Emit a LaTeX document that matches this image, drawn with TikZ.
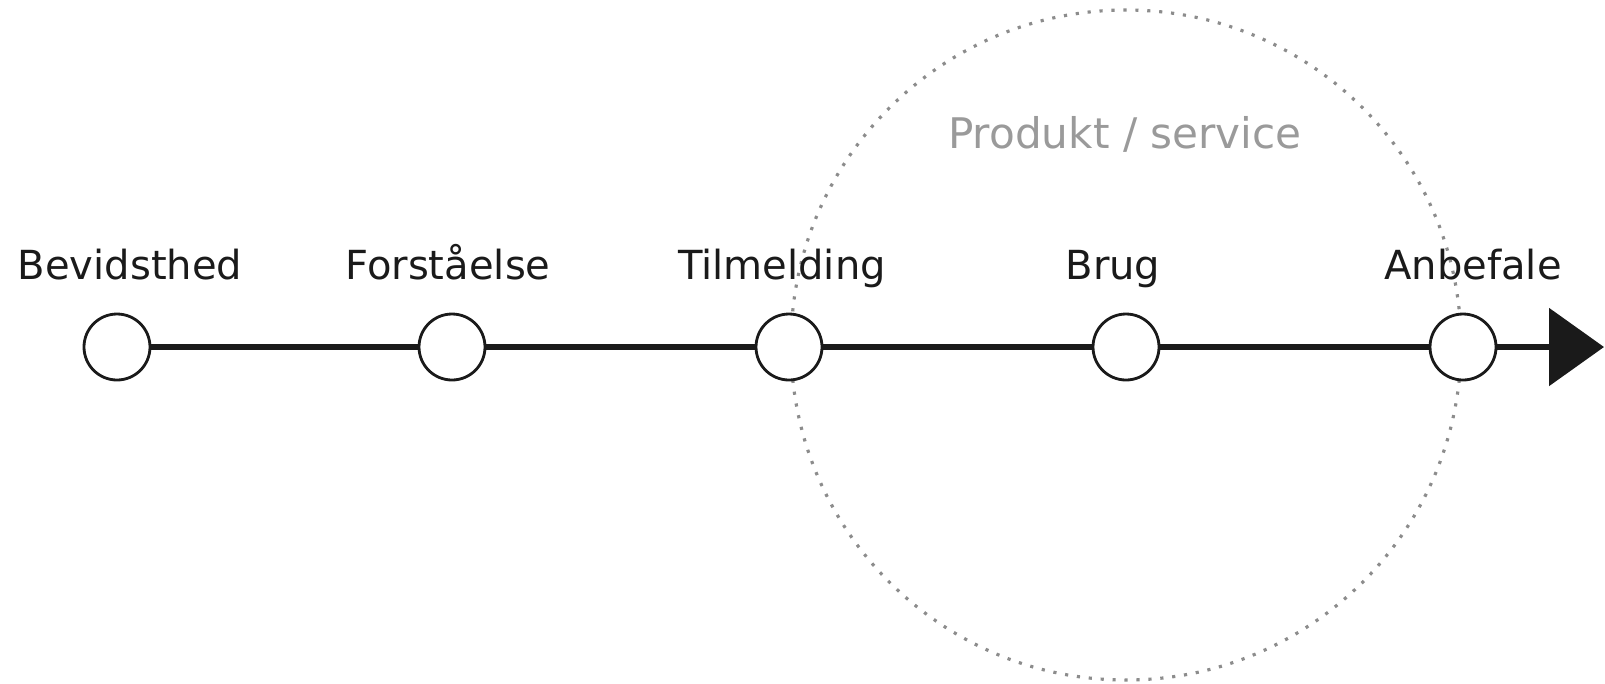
\documentclass[tikz,border=0pt]{standalone}
\usepackage{fontspec}
\setmainfont{DejaVu Sans}
\usepackage{xcolor}
\usetikzlibrary{arrows.meta,backgrounds}
\definecolor{inkdark}{HTML}{1A1A1A}
\definecolor{ringgray}{HTML}{8C8C8C}
\definecolor{textgray}{HTML}{9A9A9A}

\begin{document}
\begin{tikzpicture}[
  stage/.style={circle,draw=inkdark,line width=0.8pt,fill=white,minimum size=0.66cm,inner sep=0pt},
  stagelabel/.style={anchor=base,font=\fontsize{11.4}{13}\selectfont,text=inkdark},
  journey/.style={draw=inkdark,line width=1.6pt}]
\useasboundingbox (0,0) rectangle (16.05,6.83);
\foreach \name/\txt/\X/\dx in {bev/Bevidsthed/1.17/0.13,forst/Forståelse/4.52/-0.04,
  tilm/Tilmelding/7.89/-0.07,brug/Brug/11.26/-0.13,anbef/Anbefale/14.63/0.10}
{\node[stage] (\name) at (\X,3.36) {};
\node[stagelabel] (\name-lbl) at (\X+\dx,4.04) {\txt};
}
\coordinate (tip) at (16.04,3.36);
\draw[journey] (bev) -- (forst) -- (tilm) -- (brug) -- (anbef);
\draw[journey,-{Triangle[length=0.55cm,width=0.77cm]}] (anbef) -- (tip);
% product ring behind the stages
\begin{scope}[on background layer]
\draw[ringgray,line width=0.9pt,dash pattern=on 0.9pt off 2.5pt] (11.26,3.38) circle (3.35);
\end{scope}
\node[anchor=base,font=\fontsize{12}{14}\selectfont,text=textgray] (prod) at (11.25,5.35) {Produkt / service};
\end{tikzpicture}
\end{document}
